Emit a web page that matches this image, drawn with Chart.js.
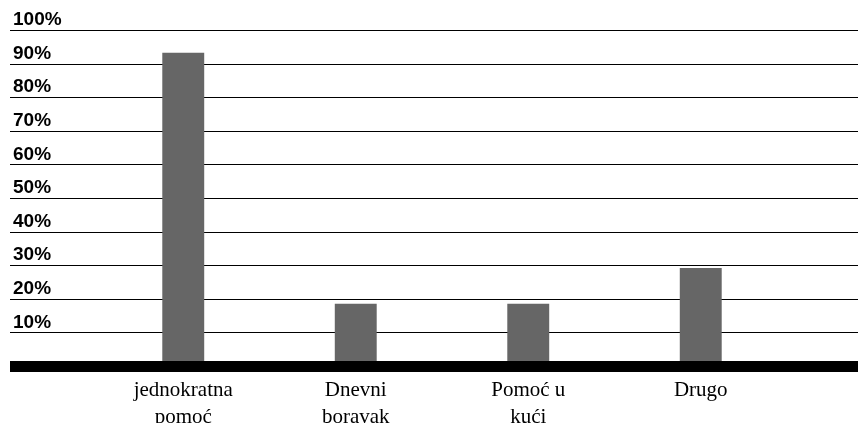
<!DOCTYPE html>
<html>
<head>
<meta charset="utf-8">
<script src="https://cdn.jsdelivr.net/npm/chart.js@4/dist/chart.umd.min.js"></script>
<style>
  html, body { margin: 0; padding: 0; background: #fff; }
  #wrap { width: 858px; height: 423px; position: relative; }
</style>
</head>
<body>
<div id="wrap"><canvas id="chart"></canvas></div>
<script>
// data
const categories = [["jednokratna", "pomoć"], ["Dnevni", "boravak"], ["Pomoć u", "kući"], "Drugo"];
const shares = [93.2, 18.5, 18.5, 29.2];
const yTicks = [10, 20, 30, 40, 50, 60, 70, 80, 90, 100];

// horizontal lines run across the whole width, bars sit on top of them
const gridPlugin = {
    id: "fullGrid",
    beforeDatasetsDraw(chart) {
        const ctx = chart.ctx;
        const y = chart.scales.y;
        ctx.save();
        ctx.strokeStyle = "#000";
        ctx.lineWidth = 1;
        yTicks.forEach(v => {
            const py = Math.round(y.getPixelForValue(v)) + 0.5;
            ctx.beginPath();
            ctx.moveTo(10, py);
            ctx.lineTo(chart.width, py);
            ctx.stroke();
        });
        ctx.restore();
    },
    afterDatasetsDraw(chart) {
        const ctx = chart.ctx;
        const y0 = chart.scales.y.getPixelForValue(0);
        ctx.save();
        ctx.fillStyle = "#000";
        ctx.fillRect(10, y0 - 5, chart.width - 10, 11);
        ctx.restore();
    }
};

new Chart(document.getElementById("chart"), {
    type: "bar",
    data: {
        labels: categories,
        datasets: [{
            data: shares,
            backgroundColor: "#666666",
            borderWidth: 0,
            categoryPercentage: 1,
            barPercentage: 0.243
        }]
    },
    options: {
        responsive: true,
        maintainAspectRatio: false,
        animation: false,
        layout: { padding: { left: 13, right: 71, top: 30, bottom: 0 } },
        plugins: { legend: { display: false }, tooltip: { enabled: false } },
        scales: {
            x: {
                grid: { display: false },
                border: { display: false },
                afterFit(scale) { scale.height = 57; },
                ticks: {
                    padding: 3,
                    maxRotation: 0,
                    autoSkip: false,
                    color: "#000",
                    font: { family: "'Liberation Serif', 'Times New Roman', serif", size: 21, lineHeight: 1.29 }
                }
            },
            y: {
                min: 0,
                max: 100,
                grid: { display: false },
                border: { display: false },
                afterFit(scale) { scale.width = 84; },
                ticks: {
                    stepSize: 10,
                    crossAlign: "far",
                    labelOffset: -10,
                    color: "#000",
                    font: { family: "'Liberation Sans', Arial, sans-serif", size: 19, weight: "bold" },
                    callback: v => (v === 0 ? "" : v + "%")
                }
            }
        }
    },
    plugins: [gridPlugin]
});
</script>
</body>
</html>
